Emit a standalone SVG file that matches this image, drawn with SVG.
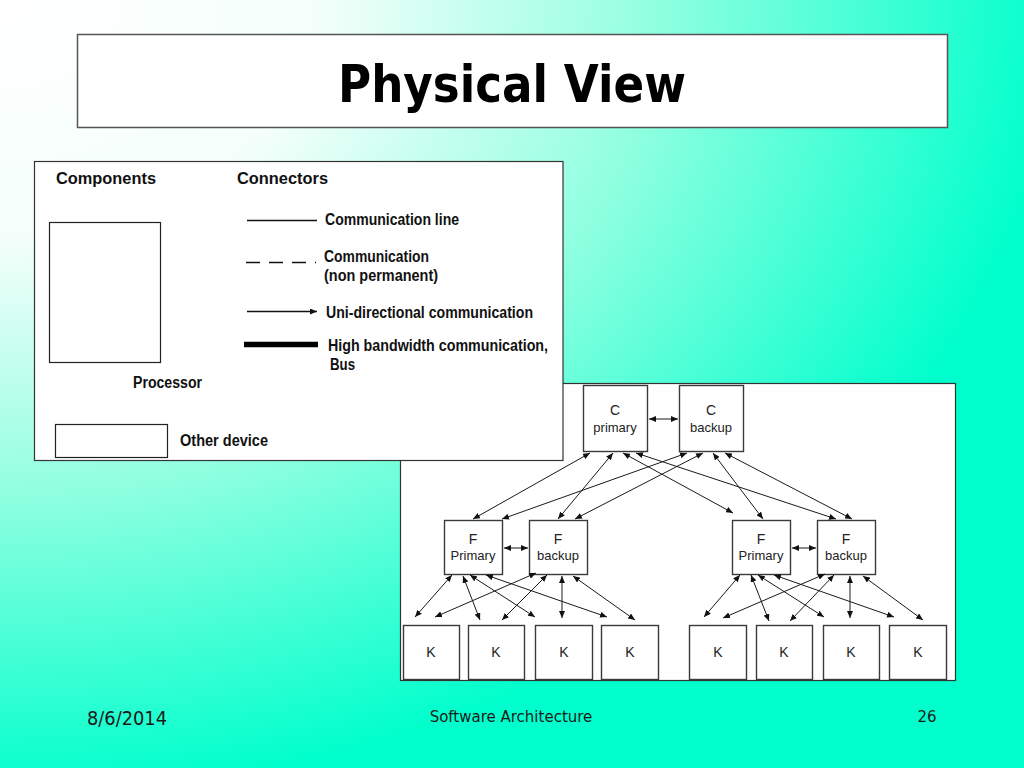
<svg xmlns="http://www.w3.org/2000/svg" width="1024" height="768" viewBox="0 0 1024 768">
  <defs>
    <radialGradient id="bg" gradientUnits="userSpaceOnUse" cx="0" cy="0" r="1060" gradientTransform="scale(1,0.75)">
      <stop offset="0" stop-color="#FFFFFF"/>
      <stop offset="0.3" stop-color="#F4FFFB"/>
      <stop offset="0.62" stop-color="#90FFE0"/>
      <stop offset="1" stop-color="#00FFCC"/>
    </radialGradient>
    <marker id="ah" viewBox="0 0 7 6" refX="7" refY="3" markerWidth="7" markerHeight="6" markerUnits="userSpaceOnUse" orient="auto-start-reverse">
      <path d="M0,0 L7,3 L0,6 z" fill="#111"/>
    </marker>
  </defs>
  <style>
    .panel { fill:#FFFFFF; stroke:#333; stroke-width:1.2; }
    .box { fill:#FFFFFF; stroke:#3a3a3a; stroke-width:1.4; }
    .lg { font-family:"Liberation Sans", Arial, sans-serif; font-weight:bold; font-size:16px; fill:#111; }
    .nd { font-family:"Liberation Sans", Arial, sans-serif; font-size:13px; fill:#222; text-anchor:middle; }
    .ndl { font-family:"Liberation Sans", Arial, sans-serif; font-size:14px; fill:#222; text-anchor:middle; }
    .ft { font-family:"DejaVu Sans", Verdana, sans-serif; fill:#1a1a1a; }
    .cn line { stroke:#1a1a1a; stroke-width:1; marker-start:url(#ah); marker-end:url(#ah); }
  </style>

  <rect width="1024" height="768" fill="url(#bg)"/>

  <g id="title">
    <rect x="77.5" y="34.5" width="870" height="93" fill="#FFFFFF" stroke="#555" stroke-width="1.5"/>
    <text x="512" y="102" text-anchor="middle" font-family="'DejaVu Sans', Verdana, sans-serif" font-weight="bold" font-size="51" textLength="348" lengthAdjust="spacingAndGlyphs" fill="#000">Physical View</text>
  </g>

  <g id="diagram-panel">
    <rect class="panel" x="400.5" y="383.5" width="555" height="297"/>
  </g>

  <g id="legend">
    <rect class="panel" x="34.5" y="161.5" width="528.5" height="299"/>
    <text class="lg" x="56" y="184" textLength="100" lengthAdjust="spacingAndGlyphs">Components</text>
    <text class="lg" x="237" y="184" textLength="91" lengthAdjust="spacingAndGlyphs">Connectors</text>
    <rect x="49.5" y="222.5" width="111" height="140" fill="#FFF" stroke="#222" stroke-width="1.2"/>
    <text class="lg" x="133" y="388" textLength="69" lengthAdjust="spacingAndGlyphs">Processor</text>
    <rect x="55.5" y="424.5" width="112" height="33" fill="#FFF" stroke="#222" stroke-width="1.2"/>
    <text class="lg" x="180" y="446" textLength="88" lengthAdjust="spacingAndGlyphs">Other device</text>
    <line x1="247" y1="220.5" x2="317" y2="220.5" stroke="#111" stroke-width="1.3"/>
    <text class="lg" x="325" y="225" textLength="134" lengthAdjust="spacingAndGlyphs">Communication line</text>
    <line x1="246" y1="262.5" x2="316" y2="262.5" stroke="#111" stroke-width="1.5" stroke-dasharray="14,9"/>
    <text class="lg" x="324" y="262" textLength="105" lengthAdjust="spacingAndGlyphs">Communication</text>
    <text class="lg" x="324" y="281" textLength="114" lengthAdjust="spacingAndGlyphs">(non permanent)</text>
    <line x1="247" y1="311.5" x2="317" y2="311.5" stroke="#111" stroke-width="1.3" marker-end="url(#ah)"/>
    <text class="lg" x="326" y="318" textLength="207" lengthAdjust="spacingAndGlyphs">Uni-directional communication</text>
    <line x1="244" y1="344.5" x2="318" y2="344.5" stroke="#000" stroke-width="5.5"/>
    <text class="lg" x="328" y="351" textLength="220" lengthAdjust="spacingAndGlyphs">High bandwidth communication,</text>
    <text class="lg" x="330" y="370" textLength="25" lengthAdjust="spacingAndGlyphs">Bus</text>
  </g>

  <g id="c-primary">
    <rect class="box" x="583.5" y="385.5" width="64" height="66"/>
    <text class="ndl" x="615" y="415">C</text>
    <text class="nd" x="615" y="432">primary</text>
  </g>
  <g id="c-backup">
    <rect class="box" x="679.5" y="385.5" width="64" height="66"/>
    <text class="ndl" x="711" y="415">C</text>
    <text class="nd" x="711" y="432">backup</text>
  </g>

  <g id="f-left-primary">
    <rect class="box" x="444.5" y="520.5" width="58" height="54"/>
    <text class="ndl" x="473" y="544">F</text>
    <text class="nd" x="473" y="560">Primary</text>
  </g>
  <g id="f-left-backup">
    <rect class="box" x="529.5" y="520.5" width="58" height="54"/>
    <text class="ndl" x="558" y="544">F</text>
    <text class="nd" x="558" y="560">backup</text>
  </g>
  <g id="f-right-primary">
    <rect class="box" x="732.5" y="520.5" width="58" height="54"/>
    <text class="ndl" x="761" y="544">F</text>
    <text class="nd" x="761" y="560">Primary</text>
  </g>
  <g id="f-right-backup">
    <rect class="box" x="817.5" y="520.5" width="58" height="54"/>
    <text class="ndl" x="846" y="544">F</text>
    <text class="nd" x="846" y="560">backup</text>
  </g>

  <g id="k1"><rect class="box" x="403.5" y="625.5" width="56" height="54"/><text class="ndl" x="431" y="657">K</text></g>
  <g id="k2"><rect class="box" x="468.5" y="625.5" width="56" height="54"/><text class="ndl" x="496" y="657">K</text></g>
  <g id="k3"><rect class="box" x="535.5" y="625.5" width="57" height="54"/><text class="ndl" x="564" y="657">K</text></g>
  <g id="k4"><rect class="box" x="601.5" y="625.5" width="57" height="54"/><text class="ndl" x="630" y="657">K</text></g>
  <g id="k5"><rect class="box" x="689.5" y="625.5" width="57" height="54"/><text class="ndl" x="718" y="657">K</text></g>
  <g id="k6"><rect class="box" x="756.5" y="625.5" width="56" height="54"/><text class="ndl" x="784" y="657">K</text></g>
  <g id="k7"><rect class="box" x="823.5" y="625.5" width="56" height="54"/><text class="ndl" x="851" y="657">K</text></g>
  <g id="k8"><rect class="box" x="889.5" y="625.5" width="57" height="54"/><text class="ndl" x="918" y="657">K</text></g>

  <g id="connectors" class="cn">
    <line x1="649" y1="419" x2="678" y2="419"/>
    <line x1="504" y1="548" x2="528" y2="548"/>
    <line x1="792" y1="548" x2="816" y2="548"/>

    <line x1="590" y1="453" x2="473" y2="519"/>
    <line x1="613" y1="453" x2="558" y2="519"/>
    <line x1="623" y1="453" x2="733" y2="513"/>
    <line x1="636" y1="453" x2="836" y2="519"/>
    <line x1="687" y1="453" x2="502" y2="519"/>
    <line x1="703" y1="453" x2="575" y2="519"/>
    <line x1="713" y1="453" x2="763" y2="519"/>
    <line x1="725" y1="453" x2="852" y2="519"/>

    <line x1="452" y1="575" x2="415" y2="617"/>
    <line x1="536" y1="573" x2="435" y2="617"/>
    <line x1="463" y1="576" x2="480" y2="620"/>
    <line x1="547" y1="575" x2="502" y2="620"/>
    <line x1="470" y1="575" x2="535" y2="617"/>
    <line x1="562" y1="576" x2="562" y2="618"/>
    <line x1="486" y1="575" x2="607" y2="617"/>
    <line x1="573" y1="576" x2="635" y2="620"/>

    <line x1="740" y1="575" x2="704" y2="617"/>
    <line x1="825" y1="574" x2="723" y2="618"/>
    <line x1="751" y1="575" x2="769" y2="621"/>
    <line x1="834" y1="575" x2="790" y2="621"/>
    <line x1="758" y1="575" x2="824" y2="617"/>
    <line x1="850" y1="576" x2="850" y2="618"/>
    <line x1="774" y1="575" x2="894" y2="617"/>
    <line x1="863" y1="576" x2="923" y2="620"/>
  </g>

  <g id="footer">
    <text class="ft" x="87" y="725" font-size="20" textLength="80" lengthAdjust="spacingAndGlyphs">8/6/2014</text>
    <text class="ft" x="511" y="722" font-size="15" text-anchor="middle">Software Architecture</text>
    <text class="ft" x="927" y="722" font-size="15" text-anchor="middle">26</text>
  </g>
</svg>
